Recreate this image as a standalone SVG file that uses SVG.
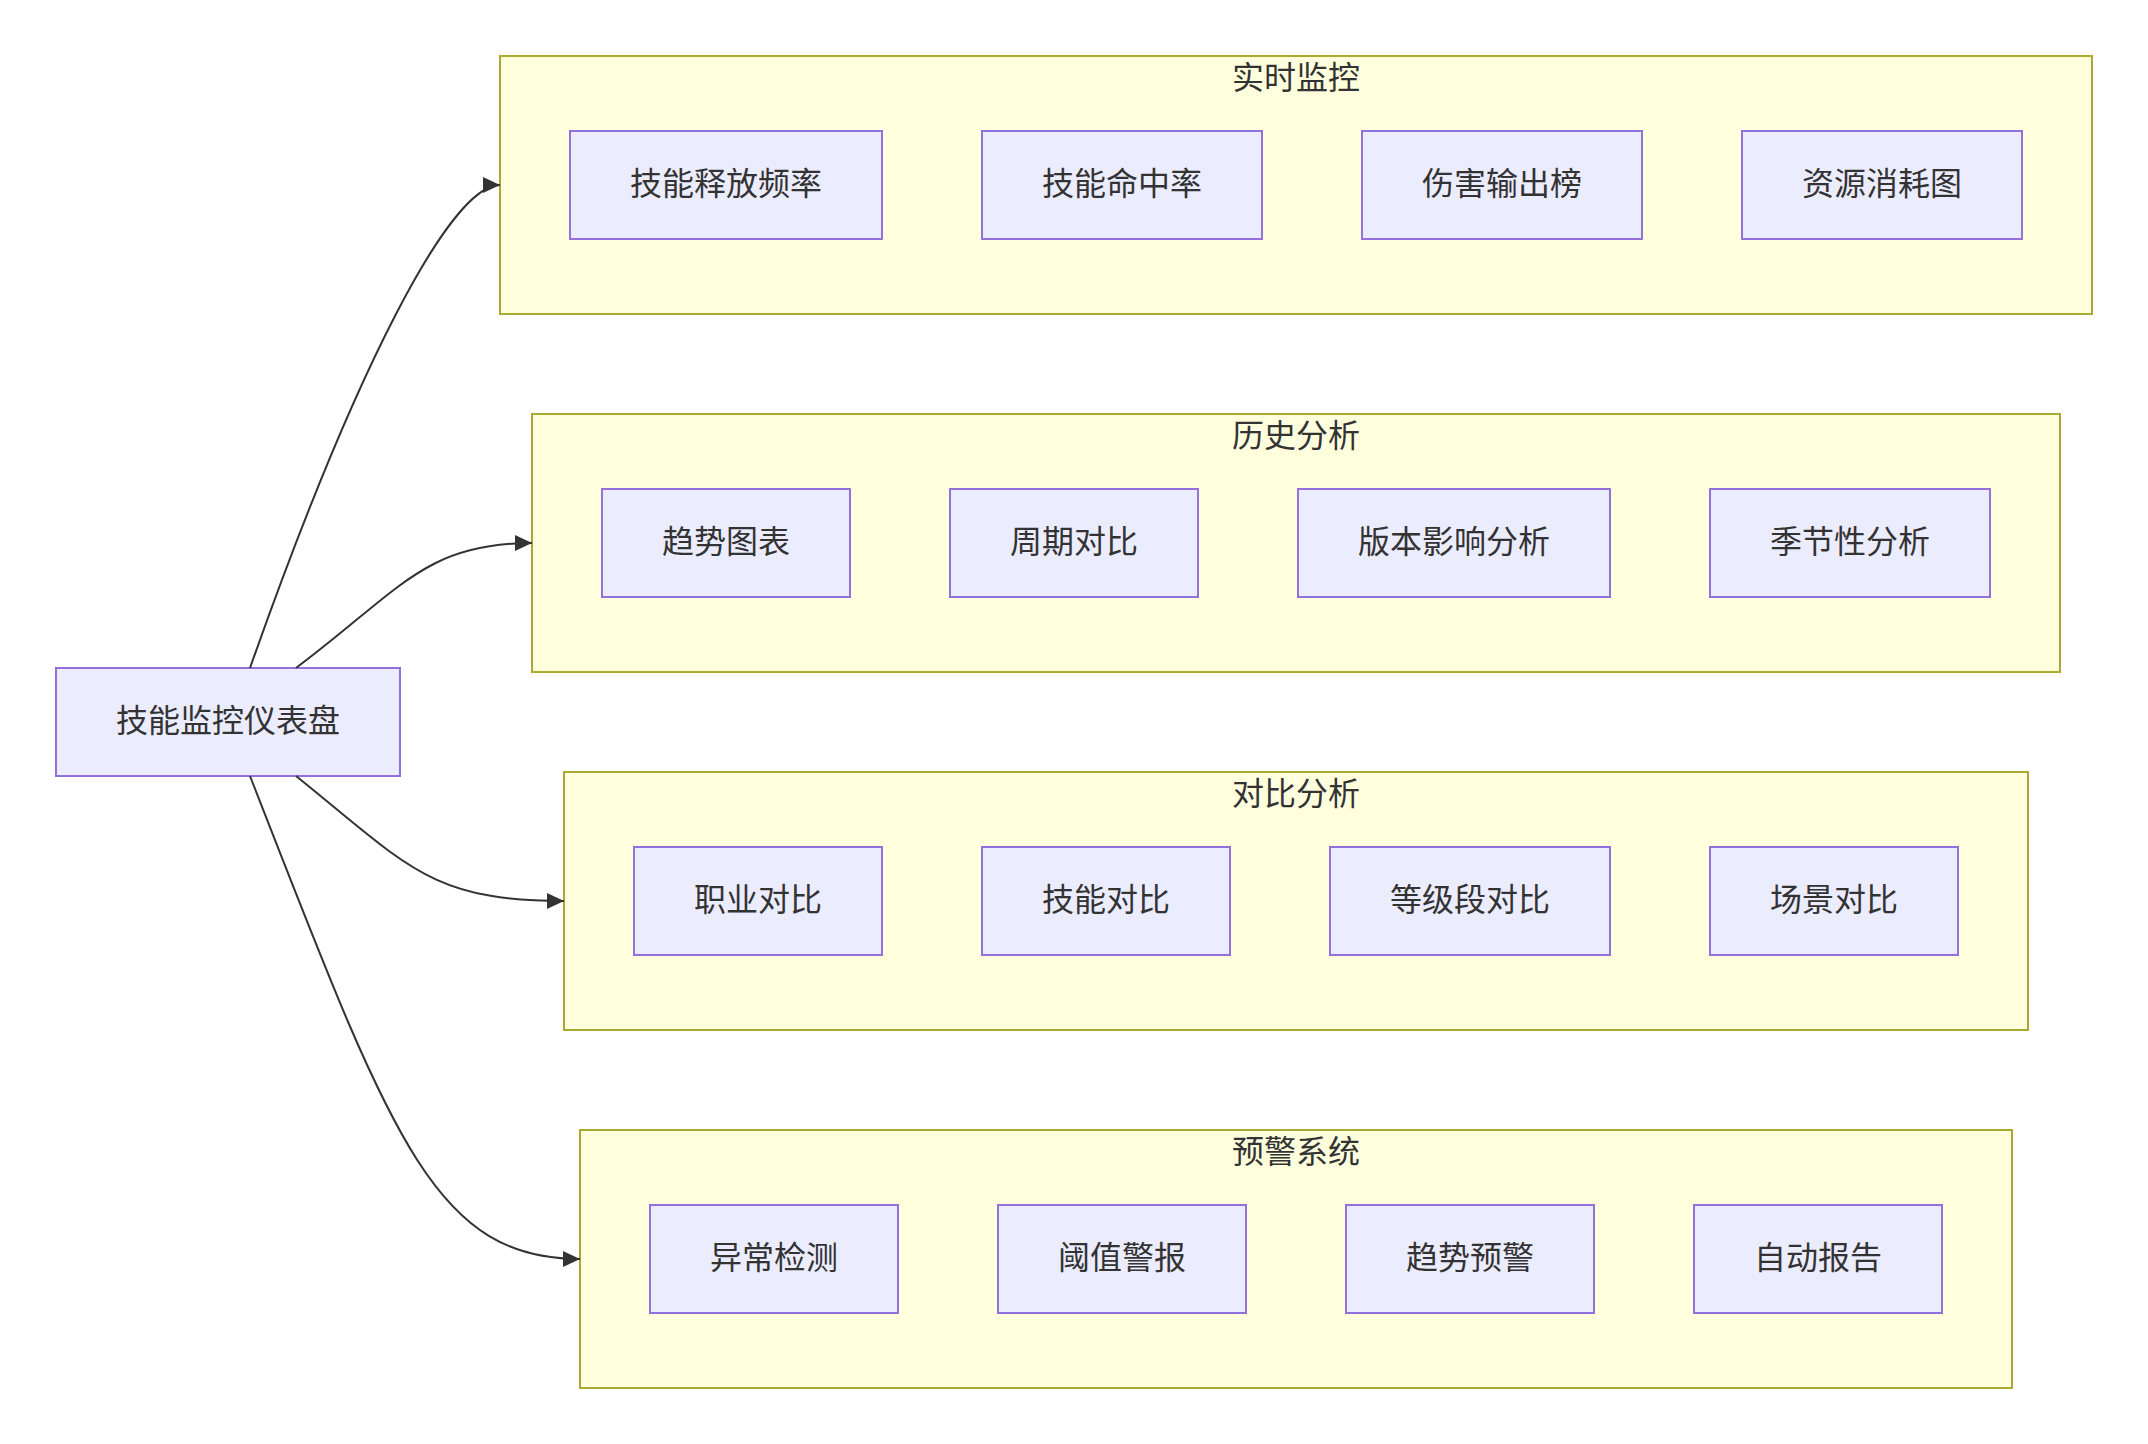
<svg xmlns="http://www.w3.org/2000/svg" width="2148" height="1444" viewBox="0 0 2148 1444">
<style>
.cluster rect{fill:#ffffde;stroke:#aaaa33;stroke-width:2}
.node rect{fill:#ececff;stroke:#9370db;stroke-width:2}
text{font-family:"Noto Sans CJK SC","Noto Sans",sans-serif;font-size:32px;fill:#333;text-anchor:middle;dominant-baseline:central}
.edge{fill:none;stroke:#333;stroke-width:2}
</style>
<defs>
<marker id="arrow" viewBox="0 0 17 16" refX="17" refY="8" markerWidth="17" markerHeight="16" markerUnits="userSpaceOnUse" orient="auto">
<path d="M0,0 L17,8 L0,16 z" fill="#333"/>
</marker>
</defs>
<rect width="2148" height="1444" fill="#fff"/>
<g id="cluster-realtime" class="cluster"><rect x="500" y="56" width="1592" height="258"/><text x="1296" y="75">实时监控</text></g>
<g id="cluster-history" class="cluster"><rect x="532" y="414" width="1528" height="258"/><text x="1296" y="433">历史分析</text></g>
<g id="cluster-compare" class="cluster"><rect x="564" y="772" width="1464" height="258"/><text x="1296" y="791">对比分析</text></g>
<g id="cluster-alert" class="cluster"><rect x="580" y="1130" width="1432" height="258"/><text x="1296" y="1149">预警系统</text></g>

<g id="node-main" class="node"><rect x="56" y="668" width="344" height="108"/><text x="228" y="718">技能监控仪表盘</text></g>

<g id="node-a1" class="node"><rect x="570" y="131" width="312" height="108"/><text x="726" y="181">技能释放频率</text></g>
<g id="node-a2" class="node"><rect x="982" y="131" width="280" height="108"/><text x="1122" y="181">技能命中率</text></g>
<g id="node-a3" class="node"><rect x="1362" y="131" width="280" height="108"/><text x="1502" y="181">伤害输出榜</text></g>
<g id="node-a4" class="node"><rect x="1742" y="131" width="280" height="108"/><text x="1882" y="181">资源消耗图</text></g>

<g id="node-b1" class="node"><rect x="602" y="489" width="248" height="108"/><text x="726" y="539">趋势图表</text></g>
<g id="node-b2" class="node"><rect x="950" y="489" width="248" height="108"/><text x="1074" y="539">周期对比</text></g>
<g id="node-b3" class="node"><rect x="1298" y="489" width="312" height="108"/><text x="1454" y="539">版本影响分析</text></g>
<g id="node-b4" class="node"><rect x="1710" y="489" width="280" height="108"/><text x="1850" y="539">季节性分析</text></g>

<g id="node-c1" class="node"><rect x="634" y="847" width="248" height="108"/><text x="758" y="897">职业对比</text></g>
<g id="node-c2" class="node"><rect x="982" y="847" width="248" height="108"/><text x="1106" y="897">技能对比</text></g>
<g id="node-c3" class="node"><rect x="1330" y="847" width="280" height="108"/><text x="1470" y="897">等级段对比</text></g>
<g id="node-c4" class="node"><rect x="1710" y="847" width="248" height="108"/><text x="1834" y="897">场景对比</text></g>

<g id="node-d1" class="node"><rect x="650" y="1205" width="248" height="108"/><text x="774" y="1255">异常检测</text></g>
<g id="node-d2" class="node"><rect x="998" y="1205" width="248" height="108"/><text x="1122" y="1255">阈值警报</text></g>
<g id="node-d3" class="node"><rect x="1346" y="1205" width="248" height="108"/><text x="1470" y="1255">趋势预警</text></g>
<g id="node-d4" class="node"><rect x="1694" y="1205" width="248" height="108"/><text x="1818" y="1255">自动报告</text></g>

<g id="connectors">
<path class="edge" d="M250,668 C355,370 450,185 500,185" marker-end="url(#arrow)"/>
<path class="edge" d="M296,668 C400,590 425,543 532,543" marker-end="url(#arrow)"/>
<path class="edge" d="M296,776 C408,866 430,901 564,901" marker-end="url(#arrow)"/>
<path class="edge" d="M250,776 C391,1137 433,1259 580,1259" marker-end="url(#arrow)"/>
</g>
</svg>
